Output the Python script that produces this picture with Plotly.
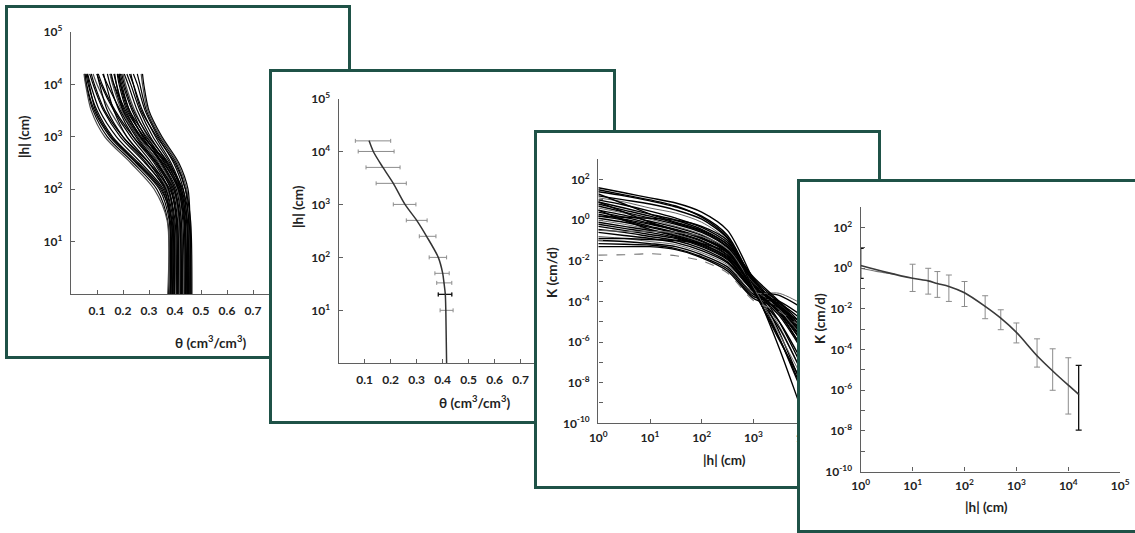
import plotly.graph_objects as go

W, H = 1135, 533

# ---------------- Panel 1: ensemble of retention curves theta(|h|) ----------------
P1_H = [1, 25, 100, 316, 1000, 3162, 10000, 15849]
P1_THETA_AT_1 = [.380, .385, .390, .375, .395, .400, .405, .410, .415, .420, .425, .430, .435, .440, .445, .450, .455, .460, .465,
                 .382, .388, .398, .408, .418, .428, .438, .448, .458, .462, .372, .392, .412, .422, .442, .452]
P1_THETA_AT_25 = [.378, .382, .387, .372, .392, .397, .400, .405, .410, .415, .420, .425, .430, .436, .440, .446, .452, .457, .460,
                  .380, .386, .395, .405, .414, .424, .434, .444, .454, .458, .370, .389, .408, .418, .438, .448]
P1_THETA_AT_100 = [.340, .350, .355, .330, .365, .370, .375, .385, .390, .398, .400, .410, .415, .420, .425, .432, .440, .445, .440,
                   .360, .365, .375, .385, .395, .405, .412, .420, .430, .450, .320, .345, .380, .395, .415, .425]
P1_THETA_AT_316 = [.250, .260, .270, .240, .285, .300, .310, .325, .335, .345, .350, .360, .370, .380, .385, .395, .405, .410, .400,
                   .290, .300, .320, .330, .340, .350, .360, .365, .375, .415, .230, .255, .300, .330, .355, .370]
P1_THETA_AT_1000 = [.150, .160, .175, .140, .190, .215, .230, .250, .265, .275, .285, .295, .305, .315, .325, .335, .340, .345, .330,
                    .200, .215, .240, .255, .260, .270, .280, .290, .300, .350, .130, .155, .200, .240, .265, .280]
P1_THETA_AT_3162 = [.090, .100, .110, .085, .125, .150, .165, .190, .210, .225, .235, .245, .255, .265, .275, .285, .290, .295, .270,
                    .140, .165, .185, .200, .195, .205, .215, .225, .240, .300, .078, .095, .130, .170, .200, .220]
P1_THETA_AT_10000 = [.060, .066, .075, .058, .085, .100, .115, .140, .165, .190, .200, .210, .220, .230, .240, .255, .265, .275, .240,
                     .110, .135, .150, .175, .160, .175, .185, .195, .205, .280, .056, .070, .090, .120, .165, .190]
P1_THETA_AT_15849 = [.054, .058, .064, .052, .072, .085, .100, .122, .150, .180, .190, .200, .205, .215, .225, .240, .255, .270, .230,
                     .100, .125, .140, .168, .150, .165, .178, .185, .195, .275, .050, .062, .078, .105, .155, .185]
P1_NODES = [P1_THETA_AT_1, P1_THETA_AT_25, P1_THETA_AT_100, P1_THETA_AT_316,
            P1_THETA_AT_1000, P1_THETA_AT_3162, P1_THETA_AT_10000, P1_THETA_AT_15849]

# ---------------- Panel 2: mean retention curve with horizontal error bars ----------------
P2_CURVE_H = [15849, 10000, 5000, 2500, 1000, 500, 250, 100, 50, 33, 20, 10, 1]
P2_CURVE_THETA = [0.117, 0.133, 0.170, 0.210, 0.255, 0.300, 0.338, 0.383, 0.400, 0.405, 0.410, 0.412, 0.415]
P2_BAR_H = [15849, 10000, 5000, 2500, 1000, 500, 250, 100, 50, 33, 20, 10]
P2_BAR_MID = [0.117, 0.133, 0.170, 0.210, 0.255, 0.300, 0.338, 0.383, 0.400, 0.405, 0.410, 0.412]
P2_BAR_LOW = [0.064, 0.075, 0.105, 0.144, 0.210, 0.260, 0.310, 0.348, 0.370, 0.377, 0.383, 0.390]
P2_BAR_HIGH = [0.200, 0.213, 0.236, 0.260, 0.297, 0.340, 0.374, 0.415, 0.425, 0.435, 0.435, 0.440]

# ---------------- Panel 3: ensemble of conductivity curves log10 K(|h|) ----------------
P3_H = [1, 3.16, 10, 31.6, 100, 316, 1000, 3162, 10000, 15849]
P3_LOGK_AT_1 = [1.6, 1.4, 1.2, 1.1, 1.5, 1.0, 0.9, 0.8, 0.7, 0.6, 0.5, 0.4, 0.3, 0.2, 0.1, 0.0, -0.1, -0.2, -0.3, -0.45,
                -0.6, -0.8, -1.0, -1.15, -1.3, 1.3, 0.9, 0.5, -0.5, -0.9, 0.2, -1.72]
P3_LOGK_AT_3 = [1.35, 1.2, 1.0, 0.9, 1.25, 0.75, 0.6, 0.5, 0.4, 0.35, 0.25, 0.15, 0.05, 0.0, -0.1, -0.2, -0.3, -0.4, -0.5, -0.6,
                -0.75, -0.9, -1.05, -1.18, -1.3, 0.8, 0.4, 0.0, -0.55, -0.9, 0.15, -1.7]
P3_LOGK_AT_10 = [1.1, 0.95, 0.8, 0.6, 1.0, 0.45, 0.3, 0.2, 0.1, 0.05, -0.05, -0.15, -0.2, -0.3, -0.35, -0.45, -0.5, -0.6, -0.7, -0.8,
                 -0.9, -1.05, -1.15, -1.22, -1.3, 0.3, -0.1, -0.45, -0.55, -0.95, 0.1, -1.65]
P3_LOGK_AT_32 = [0.85, 0.65, 0.5, 0.35, 0.7, 0.1, 0.0, -0.15, -0.2, -0.3, -0.35, -0.45, -0.5, -0.6, -0.65, -0.7, -0.75, -0.85, -0.9, -1.0,
                 -1.1, -1.2, -1.3, -1.4, -1.45, -0.1, -0.5, -0.8, -0.6, -1.0, 0.0, -1.75]
P3_LOGK_AT_100 = [0.4, 0.2, 0.05, -0.1, 0.15, -0.35, -0.45, -0.55, -0.6, -0.7, -0.75, -0.85, -0.9, -1.0, -1.05, -1.1, -1.15, -1.25, -1.3, -1.4,
                  -1.5, -1.6, -1.7, -1.8, -1.85, -0.5, -0.9, -1.2, -0.8, -1.15, -0.3, -2.0]
P3_LOGK_AT_316 = [-0.5, -0.75, -0.9, -1.0, -0.85, -1.1, -1.2, -1.3, -1.35, -1.45, -1.5, -1.55, -1.6, -1.7, -1.75, -1.8, -1.85, -1.9, -1.95, -2.05,
                  -2.1, -2.2, -2.3, -2.4, -2.5, -1.2, -1.5, -1.8, -1.4, -1.6, -1.0, -2.6]
P3_LOGK_AT_1000 = [-2.95, -3.15, -3.05, -3.15, -3.25, -2.85, -2.95, -3.0, -3.05, -3.1, -3.15, -3.2, -3.25, -3.3, -3.35, -3.35, -3.4, -3.45, -3.5, -3.55,
                   -3.45, -3.55, -3.65, -3.75, -3.85, -2.8, -2.9, -3.2, -3.3, -3.5, -3.4, -3.95]
P3_LOGK_AT_3162 = [-5.5, -5.8, -5.0, -5.2, -6.3, -4.5, -4.4, -4.3, -4.2, -4.1, -4.0, -4.2, -4.3, -4.5, -4.6, -4.4, -4.5, -4.7, -5.0, -5.3,
                   -3.7, -3.6, -4.0, -4.1, -4.3, -4.0, -4.1, -4.3, -5.6, -5.8, -5.9, -4.5]
P3_LOGK_AT_10000 = [-8.5, -8.8, -7.5, -7.8, -9.8, -6.5, -6.2, -6.0, -5.7, -5.5, -5.3, -5.6, -5.8, -6.2, -6.5, -5.9, -6.0, -6.6, -7.2, -7.8,
                    -4.4, -4.2, -4.8, -5.0, -5.2, -5.5, -5.6, -5.8, -8.0, -8.6, -8.2, -5.4]
P3_LOGK_AT_15849 = [-9.6, -9.9, -8.5, -8.8, -11.0, -7.2, -6.9, -6.7, -6.3, -6.0, -5.8, -6.1, -6.4, -6.8, -7.2, -6.5, -6.6, -7.3, -8.0, -8.7,
                    -4.7, -4.5, -5.1, -5.3, -5.5, -6.0, -6.1, -6.3, -8.9, -9.5, -9.0, -5.8]
P3_NODES = [P3_LOGK_AT_1, P3_LOGK_AT_3, P3_LOGK_AT_10, P3_LOGK_AT_32, P3_LOGK_AT_100,
            P3_LOGK_AT_316, P3_LOGK_AT_1000, P3_LOGK_AT_3162, P3_LOGK_AT_10000, P3_LOGK_AT_15849]

# ---------------- Panel 4: mean conductivity curve with vertical error bars ----------------
P4_CURVE_H = [1, 3.16, 10, 20, 30, 50, 100, 250, 500, 1000, 2500, 5000, 10000, 15849]
P4_CURVE_LOGK = [0.14, -0.2, -0.49, -0.62, -0.75, -0.89, -1.2, -1.87, -2.45, -3.15, -4.3, -5.05, -5.75, -6.2]
P4_BRANCH_H = [1, 2, 4.6]
P4_BRANCH_LOGK = [0.0, -0.15, -0.3]
P4_BAR_H = [1, 10, 20, 30, 50, 100, 250, 500, 1000, 2500, 5000, 10000, 15849]
P4_BAR_LOGK_MID = [0.1, -0.49, -0.62, -0.75, -0.89, -1.22, -1.87, -2.45, -3.18, -4.32, -5.05, -5.78, -6.21]
P4_BAR_LOGK_HIGH = [0.98, 0.2, 0.0, -0.16, -0.33, -0.65, -1.35, -2.04, -2.69, -3.47, -3.96, -4.4, -4.78]
P4_BAR_LOGK_LOW = [-0.5, -1.14, -1.27, -1.43, -1.63, -1.88, -2.48, -3.02, -3.67, -4.86, -6.0, -7.17, -7.96]

# ---------------- tick labels ----------------
THETA_TICKS_P1 = [0.1, 0.2, 0.3, 0.4, 0.5, 0.6, 0.7, 0.8]
THETA_TEXT_P1 = ["0.1", "0.2", "0.3", "0.4", "0.5", "0.6", "0.7", "0.8"]
THETA_TICKS_P2 = [0.1, 0.2, 0.3, 0.4, 0.5, 0.6, 0.7]
THETA_TEXT_P2 = ["0.1", "0.2", "0.3", "0.4", "0.5", "0.6", "0.7"]
HEAD_TICKS = [10, 100, 1000, 10000, 100000]
HEAD_TICK_TEXT = ["10<sup>1</sup>", "10<sup>2</sup>", "10<sup>3</sup>", "10<sup>4</sup>", "10<sup>5</sup>"]
HX_TICKS_P3 = [1, 10, 100, 1000, 10000]
HX_TEXT_P3 = ["10<sup>0</sup>", "10<sup>1</sup>", "10<sup>2</sup>", "10<sup>3</sup>", "10<sup>4</sup>"]
HX_TICKS_P4 = [1, 10, 100, 1000, 10000, 100000]
HX_TEXT_P4 = ["10<sup>0</sup>", "10<sup>1</sup>", "10<sup>2</sup>", "10<sup>3</sup>", "10<sup>4</sup>", "10<sup>5</sup>"]
K_MAJOR_TICKS = [1e-10, 1e-8, 1e-6, 1e-4, 1e-2, 1, 100]
K_MAJOR_TEXT = ["10<sup>-10</sup>", "10<sup>-8</sup>", "10<sup>-6</sup>", "10<sup>-4</sup>",
                "10<sup>-2</sup>", "10<sup>0</sup>", "10<sup>2</sup>"]
K_MINOR_TICKS = [1e-9, 1e-7, 1e-5, 1e-3, 1e-1, 10, 1000]

# ---------------- styling ----------------
FRAME_COLOR = "#1f5247"
AXIS_COLOR = "#5f5f5f"
TEXT_COLOR = "#222222"
FONT = "Lato"
TICKFONT = dict(family=FONT, size=12, color=TEXT_COLOR, weight="bold")
TITLEFONT = dict(family=FONT, size=13.5, color=TEXT_COLOR, weight="bold")


def fx(p):
    return max(0.0, min(1.0, p / W))


def fy(p):
    return max(0.0, min(1.0, 1 - p / H))


def frame_axes(left, top, right, bottom, right_line=True):
    common = dict(showline=True, linecolor=FRAME_COLOR, linewidth=2.6, showgrid=False,
                  zeroline=False, showticklabels=False, ticks="", tickvals=[], range=[0, 1],
                  fixedrange=True, automargin=False)
    xa = dict(common, domain=[fx(left), fx(right)], mirror=True)
    ya = dict(common, domain=[fy(bottom), fy(top)], mirror=right_line)
    return xa, ya


def data_axis(domain, **kw):
    base = dict(domain=domain, showline=True, linecolor=AXIS_COLOR, linewidth=1.4,
                ticks="inside", ticklen=4, tickwidth=1, tickcolor=AXIS_COLOR,
                showgrid=False, zeroline=False, tickfont=TICKFONT, fixedrange=True,
                automargin=False)
    base.update(kw)
    return base


fig = go.Figure()
layout = {}

# base canvas subplot spanning the whole page (keeps every panel background stacked in order)
layout["xaxis"] = dict(domain=[0, 1], range=[0, 1], visible=False, fixedrange=True, anchor="y",
                       automargin=False)
layout["yaxis"] = dict(domain=[0, 1], range=[0, 1], visible=False, fixedrange=True, anchor="x",
                       automargin=False)
fig.add_trace(go.Scatter(x=[], y=[], xaxis="x", yaxis="y", hoverinfo="skip"))

# Panel geometry (pixels)
FRAMES = [
    (8, 8, 348, 356, True),
    (272, 72, 613, 421, True),
    (537, 133, 878, 486, True),
    (800, 182, 1140, 530, False),
]
PLOTS = [
    (71, 331, 32, 294),
    (338.7, 598.7, 98.5, 363.3),
    (598.3, 856.8, 159.3, 423.3),
    (860.7, 1120.2, 207.3, 471.6),
]
MINOR = dict(tickmode="array", tickvals=K_MINOR_TICKS, ticks="inside", ticklen=4,
             tickwidth=1, tickcolor=AXIS_COLOR, showgrid=False)
THETA_AXES = [(THETA_TICKS_P1, THETA_TEXT_P1), (THETA_TICKS_P2, THETA_TEXT_P2)]
HX_AXES = [(HX_TICKS_P3, HX_TEXT_P3), (HX_TICKS_P4, HX_TEXT_P4)]

for i in range(4):
    fidx = 2 * i + 2
    didx = 2 * i + 3
    l, t, r, b, rl = FRAMES[i]
    xa, ya = frame_axes(l, t, r, b, rl)
    sx = str(fidx)
    layout["xaxis" + sx] = dict(xa, anchor="y" + sx)
    layout["yaxis" + sx] = dict(ya, anchor="x" + sx)
    fig.add_trace(go.Scatter(x=[], y=[], xaxis="x" + sx, yaxis="y" + sx, hoverinfo="skip"))

    px0, px1, py0, py1 = PLOTS[i]
    xd = [fx(px0), fx(px1)]
    yd = [fy(py1), fy(py0)]
    sd = str(didx)
    if i < 2:
        tv, tt = THETA_AXES[i]
        layout["xaxis" + sd] = data_axis(xd, type="linear", range=[0, 1.0], tickvals=tv,
                                         ticktext=tt, anchor="y" + sd, ticklabelstandoff=5)
        layout["yaxis" + sd] = data_axis(yd, type="log", range=[0, 5], tickvals=HEAD_TICKS,
                                         ticktext=HEAD_TICK_TEXT, anchor="x" + sd, ticklabelstandoff=5)
    else:
        tv, tt = HX_AXES[i - 2]
        layout["xaxis" + sd] = data_axis(xd, type="log", range=[0, 5], tickvals=tv,
                                         ticktext=tt, anchor="y" + sd, ticklabelstandoff=3)
        layout["yaxis" + sd] = data_axis(yd, type="log", range=[-10, 3], tickvals=K_MAJOR_TICKS,
                                         ticktext=K_MAJOR_TEXT, anchor="x" + sd, ticklabelstandoff=5,
                                         minor=MINOR)

    if i == 0:
        n_curves = len(P1_THETA_AT_1)
        for c in range(n_curves):
            col = "#000000" if c % 6 != 5 else "#4a4a4a"
            fig.add_trace(go.Scatter(
                x=[node[c] for node in P1_NODES], y=P1_H, mode="lines",
                line=dict(color=col, width=1.2, shape="spline", smoothing=0.8),
                xaxis="x" + sd, yaxis="y" + sd, hoverinfo="skip"))
    elif i == 1:
        fig.add_trace(go.Scatter(
            x=P2_BAR_MID, y=P2_BAR_H, mode="markers", marker=dict(size=1, color="#888888"),
            error_x=dict(type="data", symmetric=False,
                         array=[h - m for h, m in zip(P2_BAR_HIGH, P2_BAR_MID)],
                         arrayminus=[m - lo for m, lo in zip(P2_BAR_MID, P2_BAR_LOW)],
                         color="#8c8c8c", thickness=1, width=2),
            xaxis="x" + sd, yaxis="y" + sd, hoverinfo="skip"))
        fig.add_trace(go.Scatter(
            x=P2_BAR_MID[10:11], y=P2_BAR_H[10:11], mode="markers", marker=dict(size=1, color="#111111"),
            error_x=dict(type="data", symmetric=False,
                         array=[P2_BAR_HIGH[10] - P2_BAR_MID[10]],
                         arrayminus=[P2_BAR_MID[10] - P2_BAR_LOW[10]],
                         color="#111111", thickness=1.2, width=2),
            xaxis="x" + sd, yaxis="y" + sd, hoverinfo="skip"))
        fig.add_trace(go.Scatter(
            x=P2_CURVE_THETA, y=P2_CURVE_H, mode="lines",
            line=dict(color="#333333", width=1.5, shape="spline", smoothing=0.8),
            xaxis="x" + sd, yaxis="y" + sd, hoverinfo="skip"))
    elif i == 2:
        n_curves = len(P3_LOGK_AT_1)
        for c in range(n_curves):
            if c == n_curves - 1:
                line = dict(color="#777777", width=1.1, dash="dash", shape="spline", smoothing=0.8)
            elif c in (3, 9, 15, 21, 28):
                line = dict(color="#666666", width=1.0, shape="spline", smoothing=0.8)
            else:
                line = dict(color="#000000", width=1.4, shape="spline", smoothing=0.8)
            fig.add_trace(go.Scatter(
                x=P3_H, y=[10.0 ** node[c] for node in P3_NODES], mode="lines", line=line,
                xaxis="x" + sd, yaxis="y" + sd, hoverinfo="skip"))
    else:
        mids = [10.0 ** v for v in P4_BAR_LOGK_MID]
        highs = [10.0 ** v for v in P4_BAR_LOGK_HIGH]
        lows = [10.0 ** v for v in P4_BAR_LOGK_LOW]
        grey_idx = list(range(1, len(P4_BAR_H) - 1))
        dark_idx = [0, len(P4_BAR_H) - 1]
        for idxs, col, thick in ((grey_idx, "#8c8c8c", 1.0), (dark_idx, "#111111", 1.3)):
            fig.add_trace(go.Scatter(
                x=[P4_BAR_H[k] for k in idxs], y=[mids[k] for k in idxs], mode="markers",
                marker=dict(size=1, color=col),
                error_y=dict(type="data", symmetric=False,
                             array=[highs[k] - mids[k] for k in idxs],
                             arrayminus=[mids[k] - lows[k] for k in idxs],
                             color=col, thickness=thick, width=3),
                xaxis="x" + sd, yaxis="y" + sd, hoverinfo="skip"))
        fig.add_trace(go.Scatter(
            x=P4_BRANCH_H, y=[10.0 ** v for v in P4_BRANCH_LOGK], mode="lines",
            line=dict(color="#777777", width=1.1, shape="spline"),
            xaxis="x" + sd, yaxis="y" + sd, hoverinfo="skip"))
        fig.add_trace(go.Scatter(
            x=P4_CURVE_H, y=[10.0 ** v for v in P4_CURVE_LOGK], mode="lines",
            line=dict(color="#3a3a3a", width=1.6, shape="spline", smoothing=0.8),
            xaxis="x" + sd, yaxis="y" + sd, hoverinfo="skip"))

# Axis titles (as annotations placed beside each panel's axes)
TITLES = [
    ("|h| (cm)", 24, 137, -90),
    ("θ (cm<sup>3</sup>/cm<sup>3</sup>)", 210, 342, 0),
    ("|h| (cm)", 298, 207, -90),
    ("θ (cm<sup>3</sup>/cm<sup>3</sup>)", 474, 402, 0),
    ("K (cm/d)", 552, 273, -90),
    ("|h| (cm)", 724, 460, 0),
    ("K (cm/d)", 820, 319, -90),
    ("|h| (cm)", 986, 507, 0),
]
annotations = []
for text, px_, py_, ang in TITLES:
    annotations.append(dict(text=text, x=fx(px_), y=fy(py_), xref="paper", yref="paper",
                            xanchor="center", yanchor="middle", textangle=ang,
                            showarrow=False, font=TITLEFONT))

fig.update_layout(
    width=W, height=H, autosize=False,
    margin=dict(l=0, r=0, t=0, b=0, pad=0, autoexpand=False),
    paper_bgcolor="white", plot_bgcolor="white",
    showlegend=False, hovermode=False,
    annotations=annotations,
    **layout,
)

fig.write_html("out.html", config={"displayModeBar": False},
               post_script="document.body.style.margin='0px';document.body.style.overflow='hidden';")
